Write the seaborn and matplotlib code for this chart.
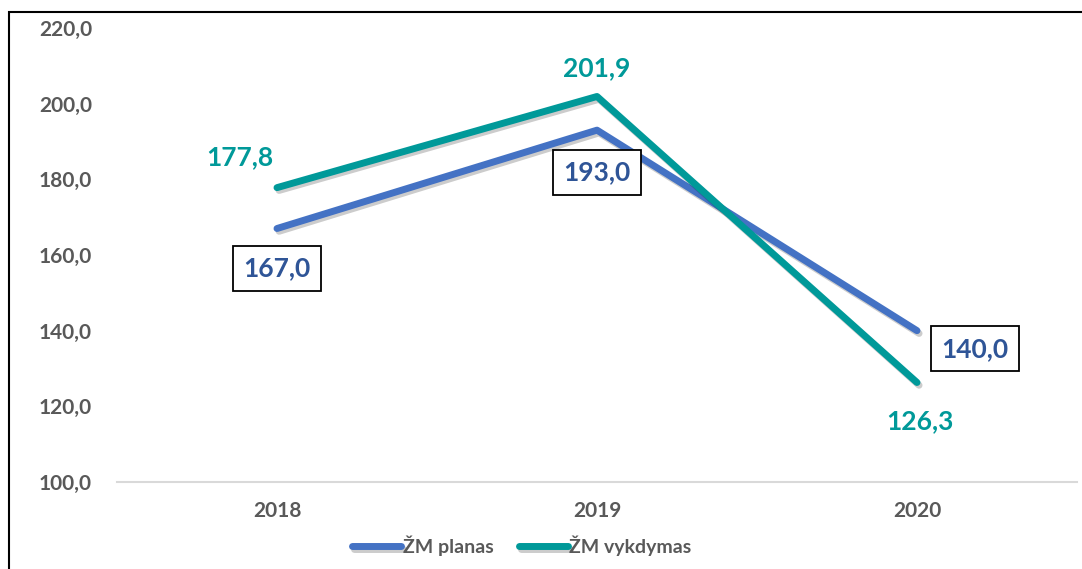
import pandas as pd
import numpy as np
import seaborn as sns
import matplotlib.pyplot as plt
import matplotlib.patheffects as pe
from matplotlib.patches import Rectangle

years = ['2018', '2019', '2020']
planas = [167.0, 193.0, 140.0]
vykdymas = [177.8, 201.9, 126.3]
series_names = ['ŽM planas', 'ŽM vykdymas']
colors = ['#4472C4', '#009999']
label_colors = ['#2F5597', '#009999']

df = pd.DataFrame({
    'pos': list(range(len(years))) * 2,
    'value': planas + vykdymas,
    'series': [series_names[0]] * 3 + [series_names[1]] * 3,
})

sns.set_style('white')
plt.rcParams['font.family'] = ['Lato', 'DejaVu Sans']
plt.rcParams['font.weight'] = 'bold'

fig = plt.figure(figsize=(10.82, 5.69), dpi=100)
ax = fig.add_axes([117 / 1082, 87 / 569, 960 / 1082, 454 / 569])

shadow = [pe.SimpleLineShadow(offset=(1.5, -2), alpha=0.2, shadow_color='black'),
          pe.Normal()]
sns.lineplot(data=df, x='pos', y='value', hue='series', palette=colors,
             linewidth=5, ax=ax, legend=True)
for ln in ax.lines:
    ln.set_solid_capstyle('round')
    ln.set_path_effects(shadow)

ax.set_xlim(-0.5, 2.5)
ax.set_ylim(100, 220)
ax.set_xticks(range(len(years)))
ax.set_xticklabels(years)
ax.set_yticks(np.arange(100, 221, 20))
ax.set_yticklabels([f'{v:.1f}'.replace('.', ',') for v in np.arange(100, 221, 20)])
ax.tick_params(axis='both', length=0, labelsize=15, labelcolor='#595959')
ax.tick_params(axis='x', pad=14)
ax.tick_params(axis='y', pad=18)
ax.set_xlabel('')
ax.set_ylabel('')
for s in ['top', 'right', 'left']:
    ax.spines[s].set_visible(False)
ax.spines['bottom'].set_color('#D9D9D9')
ax.spines['bottom'].set_linewidth(1.5)

# data labels (offsets in pixels)
plan_off = [(0, -40), (0, -42), (58, -18)]
vyk_off = [(-37, 31), (0, 28), (3, -39)]
for i, v in enumerate(planas):
    ax.annotate(f'{v:.1f}'.replace('.', ','), (i, v), xytext=plan_off[i],
                textcoords='offset pixels', ha='center', va='center',
                fontsize=19, fontweight='bold', color=label_colors[0],
                bbox=dict(boxstyle='square,pad=0.4', fc='white', ec='black', lw=1.3))
for i, v in enumerate(vykdymas):
    ax.annotate(f'{v:.1f}'.replace('.', ','), (i, v), xytext=vyk_off[i],
                textcoords='offset pixels', ha='center', va='center',
                fontsize=19, fontweight='bold', color=label_colors[1])

handles, labels = ax.get_legend_handles_labels()
leg = ax.legend(handles, labels, loc='center', bbox_to_anchor=(522 / 1082, 23 / 569),
                bbox_transform=fig.transFigure, ncol=2, frameon=False,
                handlelength=2.5, handletextpad=0.1, columnspacing=1.3,
                prop={'weight': 'bold', 'size': 14})
for t in leg.get_texts():
    t.set_color('#595959')

fig.patches.append(Rectangle((9 / 1082, -0.01), 1.0, 1 - 12 / 569 + 0.01,
                             transform=fig.transFigure, fill=False,
                             ec='black', lw=1.5))

fig.savefig('out.png', dpi=100)
